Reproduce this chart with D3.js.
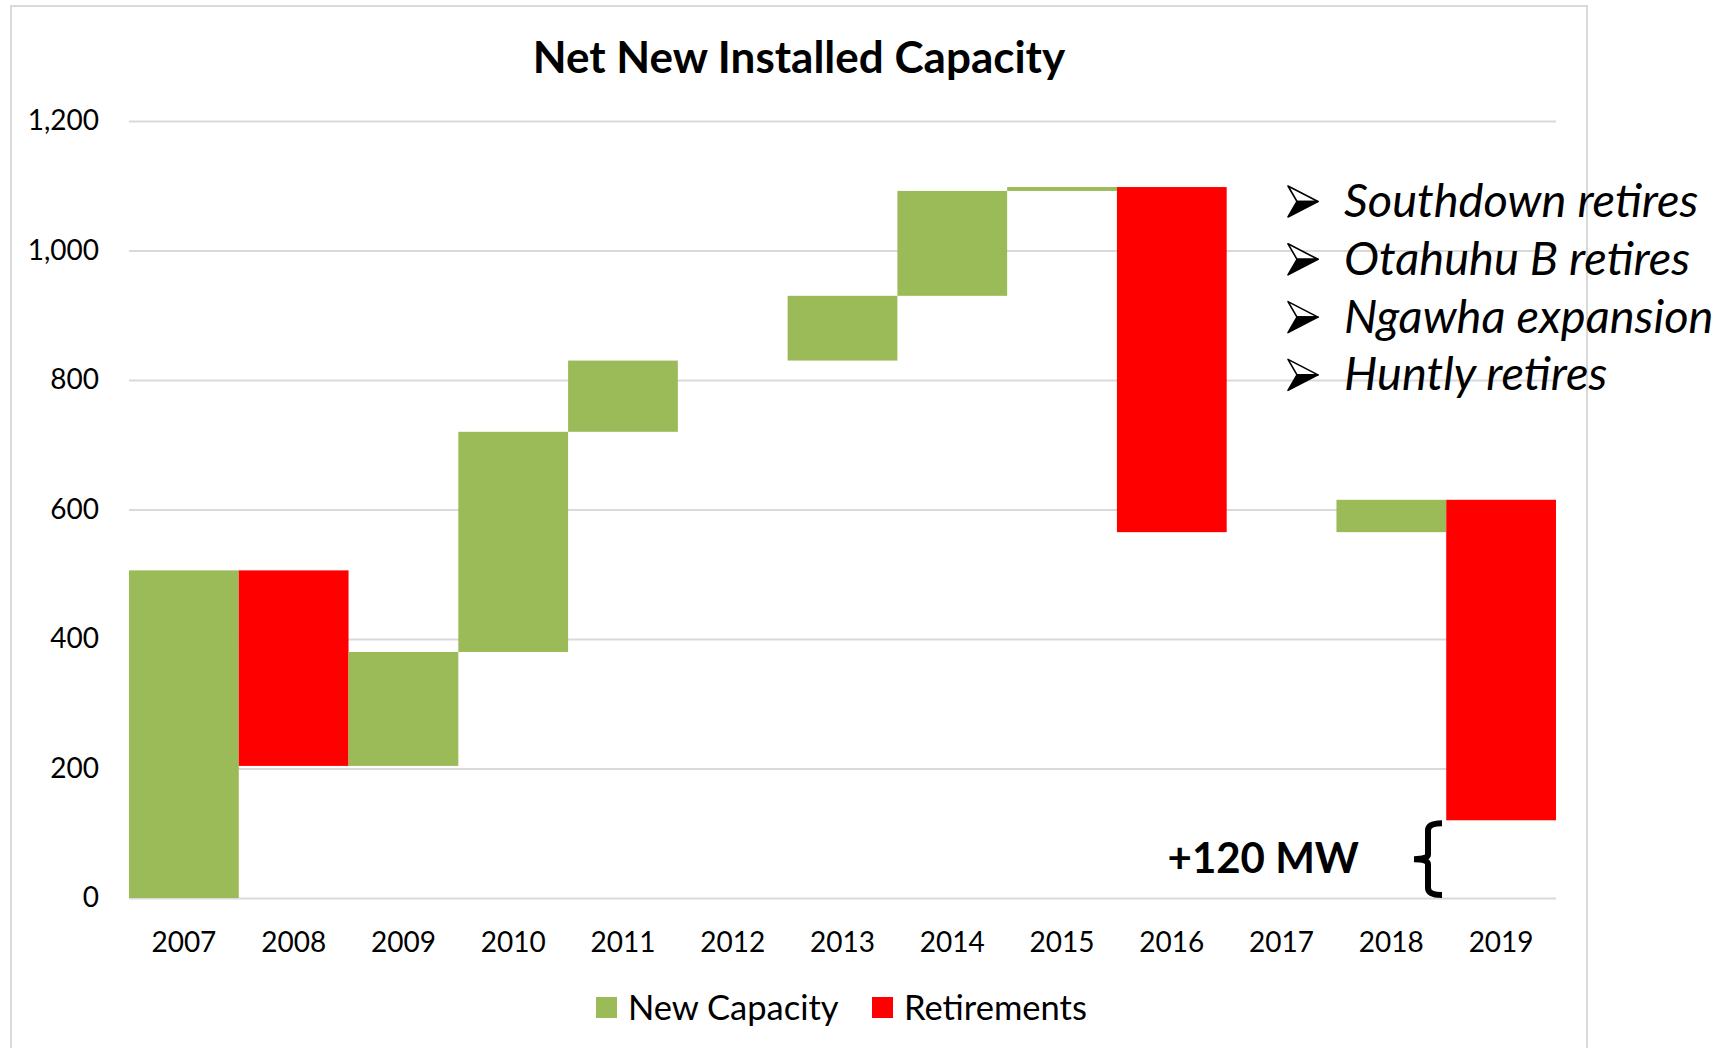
<!DOCTYPE html>
<html>
<head>
<meta charset="utf-8">
<script src="https://cdn.jsdelivr.net/npm/d3@7"></script>
<style>
  body { margin: 0; background: #fff; }
  svg text { font-family: Lato, "Open Sans", sans-serif; fill: #000; }
</style>
</head>
<body>
<svg></svg>
<script>
// data (MW)
let years = ["2007", "2008", "2009", "2010", "2011", "2012", "2013", "2014", "2015", "2016", "2017", "2018", "2019"]
let newCapacity = [506, 0, 176, 340, 110, 0, 100, 162, 6, 0, 0, 50, 0]
let retirements = [0, 302, 0, 0, 0, 0, 0, 0, 0, 533, 0, 0, 495]
let yTicks = [0, 200, 400, 600, 800, 1000, 1200]
let notes = ["Southdown retires", "Otahuhu B retires", "Ngawha expansion", "Huntly retires"]
let netLabel = "+120 MW"

let width = 1733
let height = 1048
let plotLeft = 129
let plotRight = 1556
let plotTop = 121
let plotBottom = 898

let green = "#9bbb59"
let red = "#ff0000"
let grid = "#d9d9d9"

let svg = d3.select("svg")
svg.attr("width", width).attr("height", height)

// frame round the chart area (bottom edge falls off the picture)
svg.append("rect")
   .attr("x", 11).attr("y", 6)
   .attr("width", 1576).attr("height", 1100)
   .attr("fill", "#fff")
   .attr("stroke", grid)
   .attr("stroke-width", 2)

// build the floating pieces of the waterfall
let pieces = []
let running = 0
years.forEach((y, i) => {
  if (newCapacity[i] > 0) {
    pieces.push({year: y, lo: running, hi: running + newCapacity[i], kind: "new"})
    running += newCapacity[i]
  }
  if (retirements[i] > 0) {
    pieces.push({year: y, lo: running - retirements[i], hi: running, kind: "ret"})
    running -= retirements[i]
  }
})

let xScale = d3.scaleBand().domain(years).range([plotLeft, plotRight]).padding(0)
let yScale = d3.scaleLinear().domain([0, 1200]).range([plotBottom, plotTop])

// y axis with gridlines
let yAxis = d3.axisLeft(yScale)
              .tickValues(yTicks)
              .tickFormat(d3.format(","))
              .tickSize(-(plotRight - plotLeft))
              .tickPadding(30)

let yg = svg.append("g")
            .attr("transform", "translate(" + plotLeft + ",0)")
            .call(yAxis)
yg.select(".domain").remove()
yg.selectAll("line").attr("stroke", grid).attr("stroke-width", 2)
yg.selectAll("text").attr("font-size", 28).attr("font-family", "Lato")

// bars
svg.selectAll("rect.bar")
   .data(pieces)
   .enter()
   .append("rect")
   .attr("class", "bar")
   .attr("x", d => xScale(d.year))
   .attr("width", xScale.bandwidth())
   .attr("y", d => yScale(d.hi))
   .attr("height", d => yScale(d.lo) - yScale(d.hi))
   .attr("fill", d => d.kind == "new" ? green : red)

// x axis labels
let xAxis = d3.axisBottom(xScale).tickSize(0).tickPadding(34)
let xg = svg.append("g")
            .attr("transform", "translate(0," + plotBottom + ")")
            .call(xAxis)
xg.select(".domain").remove()
xg.selectAll("text").attr("font-size", 28).attr("font-family", "Lato")

// title
svg.append("text")
   .attr("x", 799).attr("y", 73)
   .attr("text-anchor", "middle")
   .attr("font-size", 44)
   .attr("font-weight", "bold")
   .text("Net New Installed Capacity")

// bullet notes on the right, arrowheads drawn like the wingdings bullet
let notesG = svg.append("g")
notes.forEach((n, i) => {
  let yy = 217 + i * 57.8
  let ax = 1288
  let ay = yy - 31
  let arrow = notesG.append("g").attr("transform", "translate(" + ax + "," + ay + ")")
  arrow.append("path")
       .attr("d", "M0,0 L30,15.5 L9,15.5 Z")
       .attr("fill", "#fff").attr("stroke", "#000").attr("stroke-width", 1.6)
       .attr("stroke-linejoin", "round")
  arrow.append("path")
       .attr("d", "M9,15.5 L30,15.5 L0,31 Z")
       .attr("fill", "#000").attr("stroke", "#000").attr("stroke-width", 1.6)
       .attr("stroke-linejoin", "round")
  notesG.append("text")
        .attr("x", 1344).attr("y", yy)
        .attr("font-size", 47)
        .attr("font-style", "italic")
        .text(n)
})

// brace showing what is left at the end
let endValue = running
let bx = 1428
let yTop = yScale(endValue)
let yBot = yScale(0)
let yMid = (yTop + yBot) / 2
svg.append("path")
   .attr("d", "M" + (bx + 14) + "," + (yTop + 3) +
              " Q" + bx + "," + (yTop + 3) + " " + bx + "," + (yTop + 10) +
              " L" + bx + "," + (yMid - 5) +
              " Q" + bx + "," + yMid + " " + (bx - 14) + "," + yMid +
              " Q" + bx + "," + yMid + " " + bx + "," + (yMid + 5) +
              " L" + bx + "," + (yBot - 10) +
              " Q" + bx + "," + (yBot - 3) + " " + (bx + 14) + "," + (yBot - 3))
   .attr("fill", "none")
   .attr("stroke", "#000")
   .attr("stroke-width", 6)

svg.append("text")
   .attr("x", 1359).attr("y", yMid + 14)
   .attr("text-anchor", "end")
   .attr("font-size", 42)
   .attr("font-weight", "bold")
   .text(netLabel)

// legend
let legend = [{name: "New Capacity", color: green, x: 596}, {name: "Retirements", color: red, x: 872}]
let lg = svg.selectAll("g.legend")
            .data(legend)
            .enter()
            .append("g")
            .attr("class", "legend")
lg.append("rect")
  .attr("x", d => d.x).attr("y", 997)
  .attr("width", 21).attr("height", 21)
  .attr("fill", d => d.color)
lg.append("text")
  .attr("x", d => d.x + 32).attr("y", 1020)
  .attr("font-size", 34.5)
  .text(d => d.name)
</script>
</body>
</html>
